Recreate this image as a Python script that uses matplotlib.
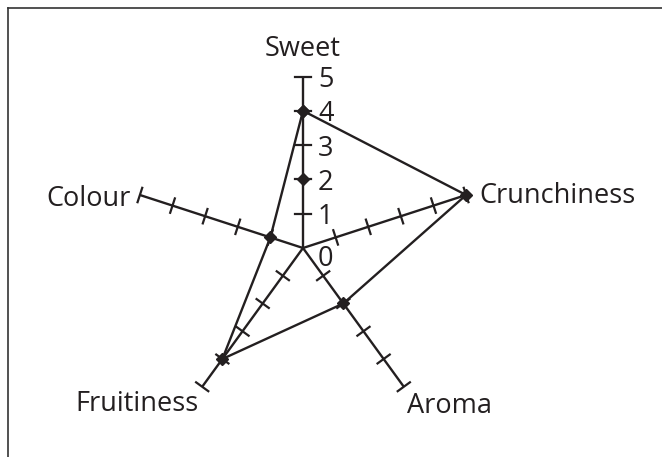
import matplotlib.pyplot as plt
import numpy as np
from matplotlib.lines import Line2D

# Radar chart - apple tasting profile
categories = ["Sweet", "Crunchiness", "Aroma", "Fruitiness", "Colour"]
scores = [4, 5, 2, 4, 1]
scale_ticks = [0, 1, 2, 3, 4, 5]
extra_marks = [2]  # extra diamond on the Sweet axis

plt.rcParams["font.family"] = ["Open Sans", "DejaVu Sans"]
INK = "#231f20"
FS = 19.5

W, H = 6.62, 4.57
fig = plt.figure(figsize=(W, H), dpi=100)
ax = fig.add_axes([0, 0, 1, 1])
ax.set_axis_off()

# 1 unit = 34.3 px, centre at pixel (303, 248)
unit = 34.3
cx, cy = 303.0, 248.0
ax.set_xlim(-cx / unit, (662 - cx) / unit)
ax.set_ylim(-(457 - cy) / unit, cy / unit)

angles = np.deg2rad(90 - 72 * np.arange(len(categories)))
rmax = max(scale_ticks)
tick_half = 0.22

for i, ang in enumerate(angles):
    ux, uy = np.cos(ang), np.sin(ang)
    ax.plot([0, rmax * ux], [0, rmax * uy], color=INK, lw=1.7, solid_capstyle="butt")
    px, py = -uy, ux
    for t in scale_ticks[1:]:
        x0, y0 = t * ux, t * uy
        ax.plot([x0 - tick_half * px, x0 + tick_half * px],
                [y0 - tick_half * py, y0 + tick_half * py], color=INK, lw=1.6)

# scale numbers on the Sweet axis
for t in scale_ticks:
    off = (15, -10.5) if t == 0 else (15, -3.5)
    ax.annotate(str(t), (0, t), xytext=off, textcoords="offset pixels",
                ha="left", va="center", fontsize=FS, color=INK)

# data polygon
xs = [s * np.cos(a) for s, a in zip(scores, angles)]
ys = [s * np.sin(a) for s, a in zip(scores, angles)]
ax.plot(xs + xs[:1], ys + ys[:1], color=INK, lw=1.7, marker="D", ms=6,
        mfc=INK, mec=INK)
for m in extra_marks:
    ax.plot(m * np.cos(angles[0]), m * np.sin(angles[0]), marker="D", ms=6,
            color=INK)

# category labels
label_offsets = [(0, 27, "center"), (13, -0.5, "left"), (3, -19.5, "left"),
                 (-4, -17.5, "right"), (-9, -3.5, "right")]
for name, ang, (dx, dy, ha) in zip(categories, angles, label_offsets):
    ax.annotate(name, (rmax * np.cos(ang), rmax * np.sin(ang)), xytext=(dx, dy),
                textcoords="offset pixels", ha=ha, va="center", fontsize=FS,
                color=INK)

# frame (only top and left edges visible in the crop)
fig.add_artist(Line2D([8 / 662, 1], [1 - 8 / 457, 1 - 8 / 457],
                      transform=fig.transFigure, color="#333333", lw=1.2))
fig.add_artist(Line2D([8 / 662, 8 / 662], [0, 1 - 8 / 457],
                      transform=fig.transFigure, color="#333333", lw=1.2))

fig.savefig("out.png", dpi=100)
plt.close(fig)
